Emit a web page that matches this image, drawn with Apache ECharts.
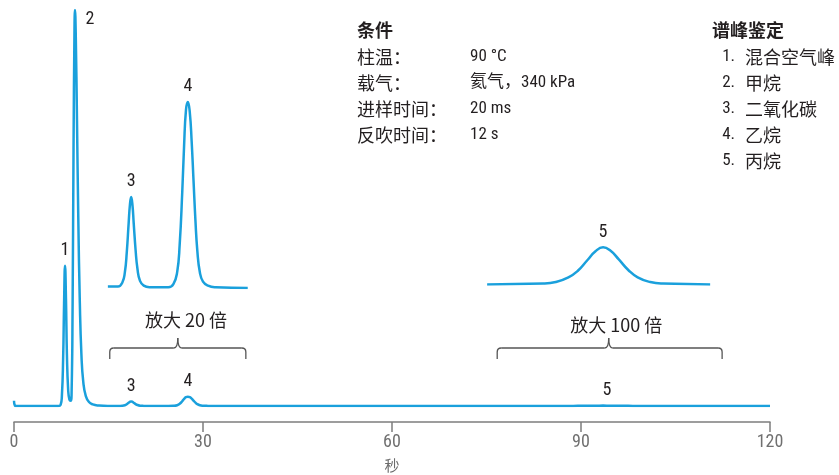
<!DOCTYPE html>
<html><head><meta charset="utf-8">
<script src="https://cdn.jsdelivr.net/npm/echarts@6/dist/echarts.min.js"></script>
<style>html,body{margin:0;padding:0;background:#fff}#c{width:839px;height:475px}</style>
</head><body><div id="c"></div>
<script>
// time in seconds, detector signal (peak 2 = 100)
var earlyTrace = [[0,1.3],[0.15,0.1],[0.4,0],[7.0,0],[7.4,0.3],[7.6,2.5],[7.8,12],[7.95,26],[8.1,35.4],[8.25,27],[8.4,13],[8.6,4],[8.8,1.6],[9.0,1.3],[9.15,4],[9.3,25],[9.45,65],[9.6,95],[9.68,100],[9.8,94],[10.0,72],[10.2,48],[10.45,26],[10.7,13],[11.0,6],[11.4,2.5],[11.9,1.0],[12.5,0.4],[13.5,0.12]];
var peaks34 = [[14.9,0.02],[16.5,0.02],[17.2,0.07],[17.6,0.2],[17.9,0.45],[18.2,0.82],[18.4,1.05],[18.6,1.15],[18.8,1.05],[19.0,0.82],[19.3,0.48],[19.6,0.24],[20.0,0.09],[20.6,0.03],[21.5,0.01],[24.5,0.01],[25.3,0.05],[25.9,0.2],[26.3,0.55],[26.7,1.2],[27.0,1.8],[27.3,2.25],[27.6,2.35],[27.9,2.22],[28.2,1.85],[28.5,1.35],[28.8,0.85],[29.1,0.47],[29.5,0.2],[30.0,0.08],[30.8,0.03],[32,0.01],[37.1,0]];
var peak5 = [[75.1,0],[84,0.002],[86,0.006],[88,0.018],[89.5,0.035],[91,0.062],[92.3,0.085],[93.5,0.095],[94.7,0.086],[96,0.064],[97.5,0.037],[99,0.018],[101,0.006],[103,0.002],[110.5,0]];
var lateTrace = [[120,0]];
var xTicks = [0,30,60,90,120];
var peakLabels = [
  {name:'1', t:8.1, v:35.4, grid:0},
  {name:'2', t:9.68, v:100, grid:0, dx:15, dy:24},
  {name:'3', t:18.6, v:1.15, grid:0},
  {name:'4', t:27.6, v:2.35, grid:0},
  {name:'5', t:93.5, v:0.095, grid:0, dx:4},
  {name:'3', t:18.6, v:1.15, grid:1},
  {name:'4', t:27.6, v:2.35, grid:1},
  {name:'5', t:93.5, v:0.095, grid:2}
];
var zooms = [
  {text:'放大 20 倍', from:15.2, to:36.8, mid:26.0, textMid:27.3},
  {text:'放大 100 倍', from:76.7, to:112.4, mid:94.4, textMid:95.6}
];
var conditionTitle = '条件';
var conditionKeys = ['柱温：','载气：','进样时间：','反吹时间：'];
var conditionVals = ['90 °C','氦气，340 kPa','20 ms','12 s'];
var peakTitle = '谱峰鉴定';
var peakNums = ['1.','2.','3.','4.','5.'];
var peakNames = ['混合空气峰','甲烷','二氧化碳','乙烷','丙烷'];

var mainTrace = earlyTrace.concat(peaks34, peak5, lateTrace);
var FONT = "'Liberation Sans Narrow','Roboto Condensed','Roboto','Noto Sans CJK SC',sans-serif";
var CJK = "'Noto Sans CJK SC','Roboto',sans-serif";
var LINE = '#1aa0dc';
var chart = echarts.init(document.getElementById('c'), null, {renderer:'canvas'});
function hiddenX(i){return {type:'value',gridIndex:i,min:0,max:120,show:false};}
var option = {
  animation:false,
  grid:[
    {left:14,right:69,top:10,bottom:69,outerBoundsMode:'none',containLabel:false},
    {left:14,right:69,top:90,bottom:187,outerBoundsMode:'none',containLabel:false},
    {left:14,right:69,top:245.4,bottom:190.6,outerBoundsMode:'none',containLabel:false}
  ],
  xAxis:[
    {type:'value',gridIndex:0,min:0,max:120,interval:30,offset:16,
     axisLine:{onZero:false,lineStyle:{color:'#7d7d7d',width:1.5}},
     axisTick:{length:10,lineStyle:{color:'#7d7d7d',width:1.5}},
     splitLine:{show:false},
     axisLabel:{color:'#707070',fontSize:18,fontFamily:FONT,margin:12,
       formatter:function(v){return xTicks.indexOf(v)>=0?String(v):'';}},
     name:'秒',nameLocation:'middle',nameGap:36,
     nameTextStyle:{color:'#6b6b6b',fontSize:15,fontFamily:CJK}},
    hiddenX(1), hiddenX(2)
  ],
  yAxis:[
    {type:'value',gridIndex:0,min:0,max:100,show:false},
    {type:'value',gridIndex:1,min:0,max:2.5,show:false},
    {type:'value',gridIndex:2,min:0,max:0.1,show:false}
  ],
  series:[
    {type:'line',xAxisIndex:0,yAxisIndex:0,data:mainTrace,showSymbol:false,smooth:0.5,
     lineStyle:{color:LINE,width:2.5},silent:true},
    {type:'line',xAxisIndex:1,yAxisIndex:1,data:peaks34,showSymbol:false,smooth:0.5,
     lineStyle:{color:LINE,width:2.5},silent:true},
    {type:'line',xAxisIndex:2,yAxisIndex:2,data:peak5,showSymbol:false,smooth:0.5,
     lineStyle:{color:LINE,width:2.5},silent:true}
  ]
};
chart.setOption(option);

var g = [];
function px(grid,t,v){return chart.convertToPixel({xAxisIndex:grid,yAxisIndex:grid},[t,v]);}
peakLabels.forEach(function(p){
  var pt = px(p.grid,p.t,p.v);
  g.push({type:'text',x:pt[0]+(p.dx||0),y:pt[1]-6+(p.dy||0),
    style:{text:p.name,fill:'#231f20',font:'18px '+FONT,align:'center',verticalAlign:'bottom'}});
});
var BR = {stroke:'#555',lineWidth:1.3,fill:null};
function seg(a,b,c,d){g.push({type:'line',shape:{x1:a,y1:b,x2:c,y2:d},style:BR});}
function qc(a,b,cx,cy,c,d){g.push({type:'bezierCurve',shape:{x1:a,y1:b,cpx1:cx,cpy1:cy,x2:c,y2:d},style:BR});}
zooms.forEach(function(z,i){
  var x1 = px(0,z.from,0)[0], x2 = px(0,z.to,0)[0], c = px(0,z.mid,0)[0], tc = px(0,z.textMid,0)[0];
  var yb = 359, yl = 348, yn = 338;
  seg(x1,yb,x1,yl+4); qc(x1,yl+4,x1,yl,x1+4,yl);
  seg(x1+4,yl,c-4,yl); qc(c-4,yl,c,yl,c,yn); qc(c,yn,c,yl,c+4,yl);
  seg(c+4,yl,x2-4,yl); qc(x2-4,yl,x2,yl,x2,yl+4); seg(x2,yl+4,x2,yb);
  g.push({type:'text',x:tc,y:i===0?320:325,style:{text:z.text,fill:'#231f20',font:'18px '+CJK,align:'center',verticalAlign:'middle'}});
});
g.push({type:'text',x:357,y:30,style:{text:conditionTitle,fill:'#231f20',font:'bold 18px '+CJK,verticalAlign:'middle'}});
conditionKeys.forEach(function(k,i){
  var y = 57+i*26;
  g.push({type:'text',x:357,y:y,style:{text:k,fill:'#231f20',font:'18px '+CJK,verticalAlign:'middle'}});
  g.push({type:'text',x:470,y:y,style:{text:conditionVals[i],fill:'#231f20',font:'17px '+FONT,verticalAlign:'middle'}});
});
g.push({type:'text',x:712,y:30,style:{text:peakTitle,fill:'#231f20',font:'bold 18px '+CJK,verticalAlign:'middle'}});
peakNums.forEach(function(n,i){
  var y = 57+i*26;
  g.push({type:'text',x:735,y:y,style:{text:n,fill:'#231f20',font:'17px '+FONT,align:'right',verticalAlign:'middle'}});
  g.push({type:'text',x:745,y:y,style:{text:peakNames[i],fill:'#231f20',font:'18px '+CJK,verticalAlign:'middle'}});
});
chart.setOption({graphic:{elements:g}});
</script></body></html>
